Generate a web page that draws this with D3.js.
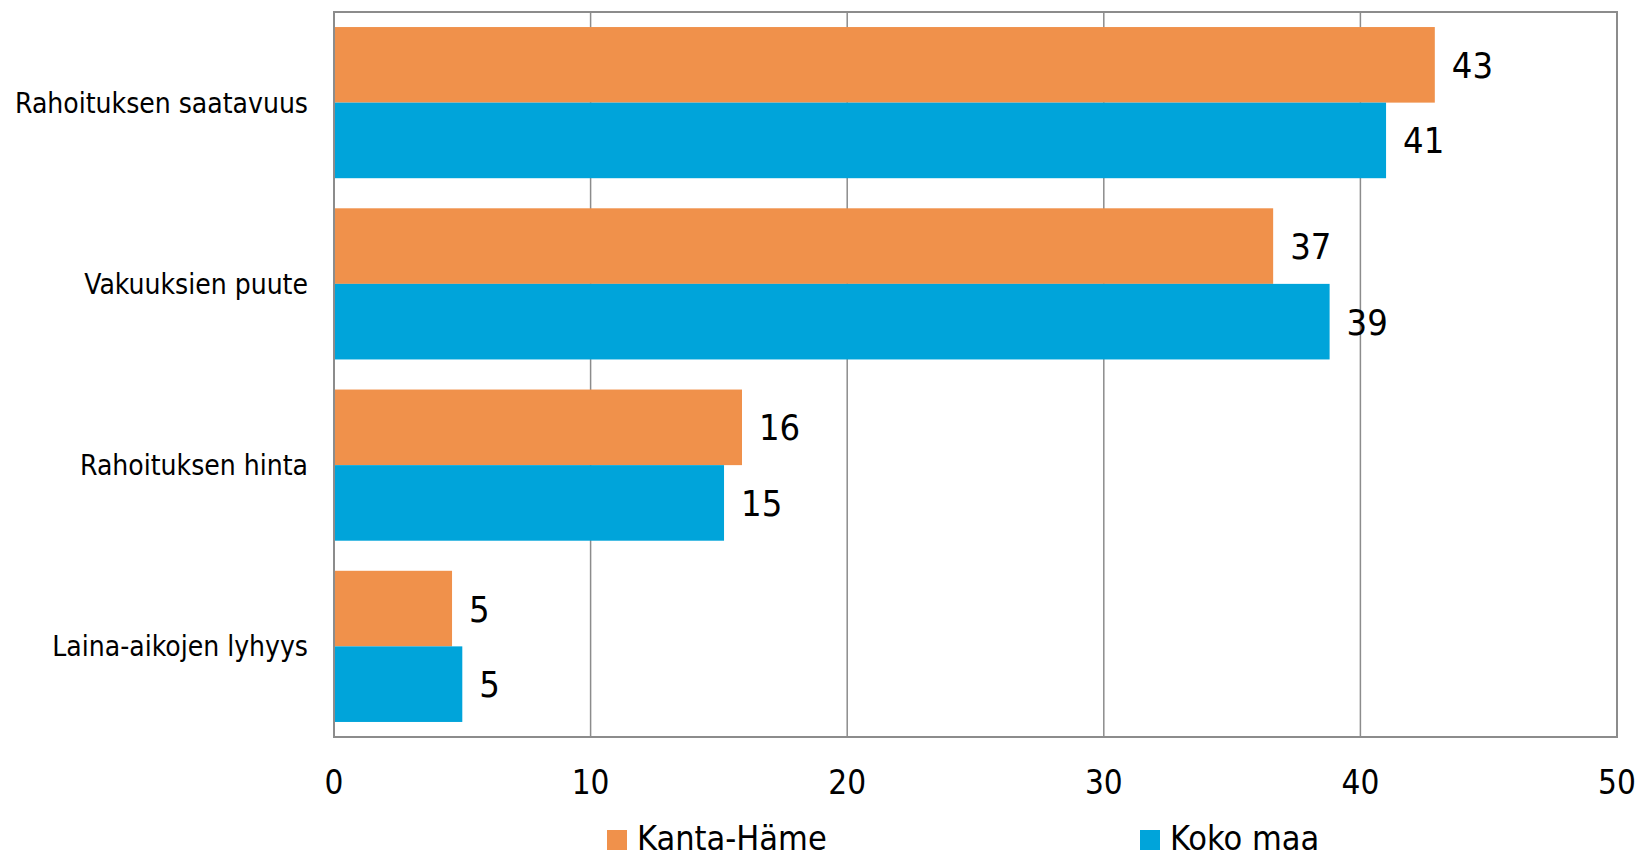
<!DOCTYPE html>
<html><head><meta charset="utf-8">
<script src="https://cdn.jsdelivr.net/npm/d3@7"></script>
<style>body{margin:0;background:#fff;} text{font-family:"DejaVu Sans Condensed","DejaVu Sans",sans-serif;fill:#000;}</style>
</head><body><svg id="c" width="1640" height="857"></svg>
<script>
const categories = ["Rahoituksen saatavuus","Vakuuksien puute","Rahoituksen hinta","Laina-aikojen lyhyys"];
const seriesNames = ["Kanta-Häme","Koko maa"];
const kantaHame = [42.9, 36.6, 15.9, 4.6];
const kokoMaa = [41.0, 38.8, 15.2, 5.0];
const valueLabels = [["43","37","16","5"],["41","39","15","5"]];
const xTicks = [0,10,20,30,40,50];
const colors = ["#F0914B","#00A4DA"];

const svg = d3.select("#c");
const L=334, R=1617, T=12, B=737;
const x = d3.scaleLinear().domain([0,50]).range([L,R]);
const y = d3.scaleBand().domain(categories).range([T,B]).paddingInner(0.166).paddingOuter(0.083);
const ys = d3.scaleBand().domain(seriesNames).range([0,y.bandwidth()]);
const series = [kantaHame,kokoMaa];

// grid
svg.append("g").selectAll("line").data(xTicks.slice(1,-1)).join("line")
  .attr("x1",d=>x(d)).attr("x2",d=>x(d)).attr("y1",T).attr("y2",B)
  .attr("stroke","#8c8c8c").attr("stroke-width",1.5);
svg.append("rect").attr("x",L).attr("y",T).attr("width",R-L).attr("height",B-T)
  .attr("fill","none").attr("stroke","#8c8c8c").attr("stroke-width",2);

// bars
series.forEach((vals,si)=>{
  const g = svg.append("g");
  g.selectAll("rect").data(vals).join("rect")
    .attr("x",x(0)).attr("y",(d,i)=>y(categories[i])+ys(seriesNames[si]))
    .attr("width",d=>x(d)-x(0)).attr("height",ys.bandwidth())
    .attr("fill",colors[si]);
  g.selectAll("text").data(vals).join("text")
    .attr("x",d=>x(d)+17).attr("y",(d,i)=>y(categories[i])+ys(seriesNames[si])+ys.bandwidth()/2)
    .attr("dy","0.36em").attr("font-size",36).text((d,i)=>valueLabels[si][i]);
});
svg.append("line").attr("x1",L).attr("x2",L).attr("y1",T).attr("y2",B).attr("stroke","#8c8c8c").attr("stroke-width",2);

// category labels
svg.append("g").selectAll("text").data(categories).join("text")
  .attr("x",308).attr("y",d=>y(d)+y.bandwidth()/2).attr("dy","0.36em")
  .attr("text-anchor","end").attr("font-size",28).text(d=>d);

// x tick labels
svg.append("g").selectAll("text").data(xTicks).join("text")
  .attr("x",d=>x(d)).attr("y",782).attr("dy","0.36em").attr("text-anchor","middle")
  .attr("font-size",33).text(d=>d);

// legend
const legX=[607,1140];
seriesNames.forEach((n,i)=>{
  svg.append("rect").attr("x",legX[i]).attr("y",830).attr("width",20).attr("height",20).attr("fill",colors[i]);
  svg.append("text").attr("x",legX[i]+30).attr("y",838).attr("dy","0.36em").attr("font-size",34).text(n);
});
</script></body></html>
